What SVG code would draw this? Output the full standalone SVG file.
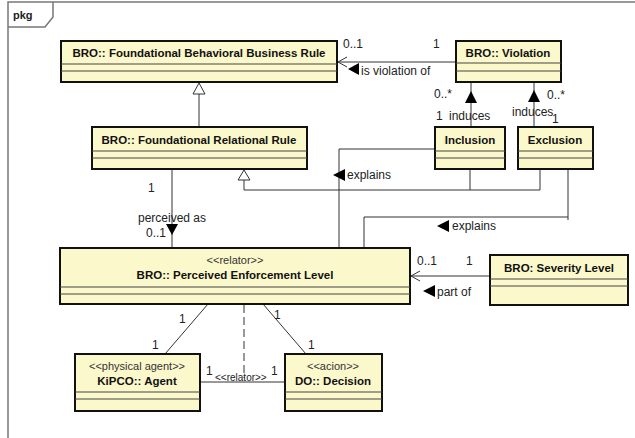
<svg xmlns="http://www.w3.org/2000/svg" width="635" height="438" viewBox="0 0 635 438">
  <defs>
    <style>
      text { font-family: "Liberation Sans", Arial, sans-serif; font-size: 12px; fill: #222; }
      .title { font-weight: bold; font-size: 11.5px; text-anchor: middle; fill: #111; }
      .stereo { text-anchor: middle; font-size: 11px; fill: #333; }
      .box { fill: #fbf8cc; stroke: #111; stroke-width: 2; }
      .comp { stroke: #444; stroke-width: 1; fill: none; }
      .edge { stroke: #333; stroke-width: 1; fill: none; }
      .dash { stroke: #333; stroke-width: 1; fill: none; stroke-dasharray: 8 4; }
      .hollow { fill: #fff; stroke: #333; stroke-width: 1; }
      .dir { fill: #000; }
      .frame { stroke: #777; stroke-width: 1.5; fill: none; }
    </style>
  </defs>

  <rect width="635" height="438" fill="#fff"/>

  <!-- package frame -->
  <g id="frame">
    <path class="frame" d="M8,438 V2 H635"/>
    <path class="frame" d="M8,27 H45 L53,17 V2"/>
    <text x="13" y="19" style="font-weight:bold;font-size:11px">pkg</text>
  </g>

  <!-- connectors -->
  <g id="connectors">
    <!-- generalization: relational rule to behavioral rule -->
    <line class="edge" x1="199" y1="127" x2="199" y2="94"/>
    <polygon class="hollow" points="199,83 193,94 205,94"/>

    <!-- generalization: inclusion / exclusion to relational rule -->
    <path class="edge" d="M470,169 V190 M540,169 V190 M540,190 H244 V180"/>
    <polygon class="hollow" points="244,170 238,180 250,180"/>

    <!-- is violation of -->
    <line class="edge" x1="456" y1="62" x2="338" y2="62"/>
    <path class="edge" d="M347,57 L338,62 L347,67"/>
    <text x="343" y="48">0..1</text>
    <text x="433" y="48">1</text>
    <polygon class="dir" points="348,69 359,63 359,75"/>
    <text x="361" y="75">is violation of</text>

    <!-- induces (inclusion) -->
    <line class="edge" x1="471" y1="82" x2="471" y2="127"/>
    <polygon class="dir" points="471,91 465,103 477,103"/>
    <text x="434" y="98">0..*</text>
    <text x="436" y="120">1</text>
    <text x="449" y="120">induces</text>

    <!-- induces (exclusion) -->
    <line class="edge" x1="534" y1="82" x2="534" y2="127"/>
    <polygon class="dir" points="534,90 528,102 540,102"/>
    <text x="547" y="99">0..*</text>
    <text x="512" y="116">induces</text>
    <text x="552" y="123">1</text>

    <!-- explains (inclusion) -->
    <path class="edge" d="M435,149 H339 V248"/>
    <polygon class="dir" points="333,175 345,169 345,181"/>
    <text x="347" y="179">explains</text>

    <!-- explains (exclusion) -->
    <path class="edge" d="M568,169 V220 M568,217 H364 V248"/>
    <polygon class="dir" points="437,226 449,220 449,232"/>
    <text x="452" y="230">explains</text>

    <!-- perceived as -->
    <line class="edge" x1="172" y1="169" x2="172" y2="248"/>
    <polygon class="dir" points="172,235 166,224 178,224"/>
    <text x="148" y="192">1</text>
    <text x="138" y="222">perceived as</text>
    <text x="146" y="237">0..1</text>

    <!-- part of -->
    <line class="edge" x1="490" y1="276" x2="411" y2="276"/>
    <path class="edge" d="M420,271 L411,276 L420,281"/>
    <text x="417" y="265">0..1</text>
    <text x="466" y="265">1</text>
    <polygon class="dir" points="423,291 435,285 435,297"/>
    <text x="437" y="296">part of</text>

    <!-- relator mediations -->
    <line class="edge" x1="208" y1="304" x2="165" y2="354"/>
    <text x="179" y="323">1</text>
    <text x="152" y="349">1</text>
    <line class="edge" x1="263" y1="304" x2="306" y2="354"/>
    <text x="274" y="319">1</text>
    <text x="308" y="349">1</text>

    <!-- material relation between agent and decision -->
    <line class="edge" x1="200" y1="382" x2="285" y2="382"/>
    <line class="dash" x1="244" y1="305" x2="244" y2="378"/>
    <text x="206" y="375">1</text>
    <text x="215" y="381" style="font-size:10px">&lt;&lt;relator&gt;&gt;</text>
    <text x="271" y="375">1</text>
  </g>

  <!-- classes -->
  <g id="behavioral-rule">
    <rect class="box" x="61" y="41" width="276" height="41"/>
    <line class="comp" x1="61" y1="64" x2="337" y2="64"/>
    <line class="comp" x1="61" y1="71" x2="337" y2="71"/>
    <text class="title" x="199" y="57">BRO:: Foundational Behavioral Business Rule</text>
  </g>

  <g id="violation">
    <rect class="box" x="456" y="41" width="105" height="41"/>
    <line class="comp" x1="456" y1="63" x2="561" y2="63"/>
    <line class="comp" x1="456" y1="71" x2="561" y2="71"/>
    <text class="title" x="508" y="57">BRO:: Violation</text>
  </g>

  <g id="relational-rule">
    <rect class="box" x="92" y="127" width="215" height="42"/>
    <line class="comp" x1="92" y1="151" x2="307" y2="151"/>
    <line class="comp" x1="92" y1="158" x2="307" y2="158"/>
    <text class="title" x="199" y="144">BRO:: Foundational Relational Rule</text>
  </g>

  <g id="inclusion">
    <rect class="box" x="435" y="127" width="70" height="42"/>
    <line class="comp" x1="435" y1="151" x2="505" y2="151"/>
    <line class="comp" x1="435" y1="158" x2="505" y2="158"/>
    <text class="title" x="470" y="144">Inclusion</text>
  </g>

  <g id="exclusion">
    <rect class="box" x="518" y="127" width="75" height="42"/>
    <line class="comp" x1="518" y1="151" x2="593" y2="151"/>
    <line class="comp" x1="518" y1="158" x2="593" y2="158"/>
    <text class="title" x="555" y="144">Exclusion</text>
  </g>

  <g id="enforcement-level">
    <rect class="box" x="60" y="248" width="350" height="56"/>
    <line class="comp" x1="60" y1="287" x2="410" y2="287"/>
    <line class="comp" x1="60" y1="294" x2="410" y2="294"/>
    <text class="stereo" x="235" y="264">&lt;&lt;relator&gt;&gt;</text>
    <text class="title" x="235" y="279">BRO:: Perceived Enforcement Level</text>
  </g>

  <g id="severity-level">
    <rect class="box" x="490" y="255" width="138" height="50"/>
    <line class="comp" x1="490" y1="279" x2="628" y2="279"/>
    <line class="comp" x1="490" y1="286" x2="628" y2="286"/>
    <text class="title" x="559" y="272">BRO: Severity Level</text>
  </g>

  <g id="agent">
    <rect class="box" x="75" y="354" width="125" height="57"/>
    <line class="comp" x1="75" y1="392" x2="200" y2="392"/>
    <line class="comp" x1="75" y1="399" x2="200" y2="399"/>
    <text class="stereo" x="137" y="370">&lt;&lt;physical agent&gt;&gt;</text>
    <text class="title" x="137" y="385">KiPCO:: Agent</text>
  </g>

  <g id="decision">
    <rect class="box" x="285" y="354" width="97" height="57"/>
    <line class="comp" x1="285" y1="392" x2="382" y2="392"/>
    <line class="comp" x1="285" y1="399" x2="382" y2="399"/>
    <text class="stereo" x="333" y="370">&lt;&lt;acion&gt;&gt;</text>
    <text class="title" x="333" y="385">DO:: Decision</text>
  </g>
</svg>
